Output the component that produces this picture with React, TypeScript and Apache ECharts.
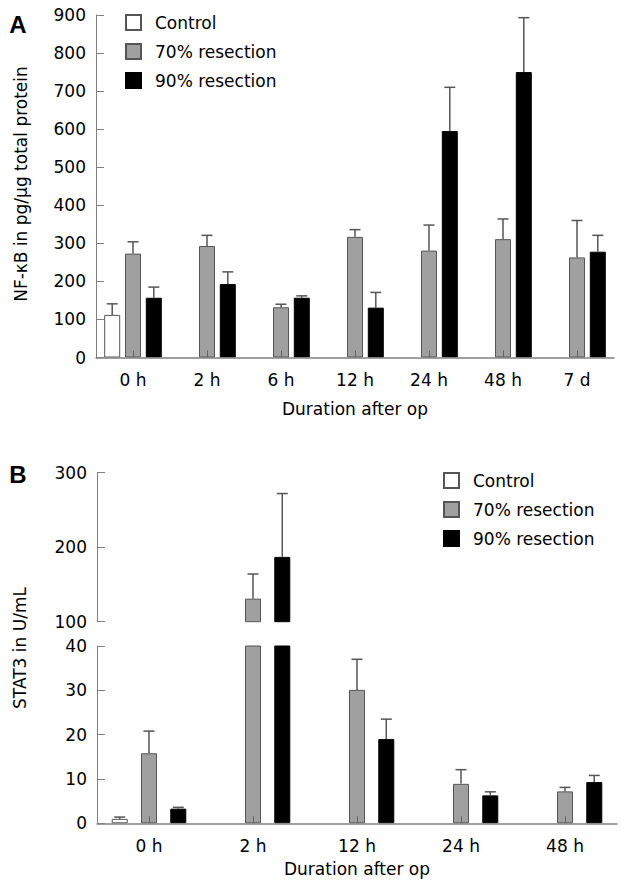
import React, { useEffect, useRef } from "react";
import * as echarts from "echarts";

// Panel A: NF-kB
const categoriesA = ["0 h", "2 h", "6 h", "12 h", "24 h", "48 h", "7 d"];
const controlA = [112, null, null, null, null, null, null];
const controlErrA = [29, null, null, null, null, null, null];
const res70A = [273, 293, 132, 317, 281, 311, 263];
const res70ErrA = [31, 28, 8, 19, 67, 53, 97];
const res90A = [157, 193, 157, 131, 595, 750, 278];
const res90ErrA = [28, 32, 5, 40, 115, 143, 43];
const ticksA = [0, 100, 200, 300, 400, 500, 600, 700, 800, 900];

// Panel B: STAT3 (broken axis)
const categoriesB = ["0 h", "2 h", "12 h", "24 h", "48 h"];
const controlB = [1.0, null, null, null, null];
const controlErrB = [0.4, null, null, null, null];
const res70B = [15.8, 131, 30.1, 8.9, 7.2];
const res70ErrB = [5.0, 33, 6.9, 3.2, 0.9];
const res90B = [3.3, 187, 19.0, 6.3, 9.3];
const res90ErrB = [0.3, 85, 4.5, 0.8, 1.5];
const ticksBTop = [100, 200, 300];
const ticksBBottom = [0, 10, 20, 30, 40];
const BREAK_LOW = 40;

const seriesNames = ["Control", "70% resection", "90% resection"];
const FONT = "DejaVu Sans";
const AXIS_COLOR = "#808080";
const ERR_COLOR = "#555555";

const styles = [
  { color: "#ffffff", borderColor: "#555555", borderWidth: 1 },
  { color: "#a0a0a0", borderColor: "#555555", borderWidth: 1 },
  { color: "#000000", borderColor: "#000000", borderWidth: 1 },
];

function errData(means: (number | null)[], errs: (number | null)[], filter?: (v: number) => boolean) {
  const out: number[][] = [];
  means.forEach((m, i) => {
    const e = errs[i];
    if (m == null || e == null) return;
    if (filter && !filter(m)) return;
    out.push([i, m, m + e]);
  });
  return out;
}

function errRender(offset: number) {
  return (params: any, api: any) => {
    const x = api.value(0);
    const p0 = api.coord([x, api.value(1)]);
    const p1 = api.coord([x, api.value(2)]);
    const cx = p0[0] + offset;
    const st = { stroke: ERR_COLOR, lineWidth: 1.5 };
    return {
      type: "group",
      children: [
        { type: "line", shape: { x1: cx, y1: p0[1], x2: cx, y2: p1[1] }, style: st },
        { type: "line", shape: { x1: cx - 5.5, y1: p1[1], x2: cx + 5.5, y2: p1[1] }, style: st },
      ],
    };
  };
}

export default function App() {
  const ref = useRef<HTMLDivElement>(null);
  useEffect(() => {
    if (!ref.current) return;
    const chart = echarts.init(ref.current, undefined, { renderer: "svg" });

    const labelStyle = { fontFamily: FONT, fontSize: 17, color: "#000" };
    const yAxisCommon = (gridIndex: number, min: number, max: number, interval: number) => ({
      type: "value",
      gridIndex,
      min,
      max,
      interval,
      axisLine: { show: true, lineStyle: { color: AXIS_COLOR, width: 1 } },
      axisTick: { show: true, inside: true, length: 8, lineStyle: { color: AXIS_COLOR } },
      axisLabel: { ...labelStyle, margin: 10 },
      splitLine: { show: false },
    });
    const xAxisCommon = (gridIndex: number, data: string[], margin: number, nameGap: number) => ({
      type: "category",
      gridIndex,
      data,
      z: 5,
      name: "Duration after op",
      nameLocation: "middle",
      nameGap,
      nameTextStyle: { fontFamily: FONT, fontSize: 17, color: "#000" },
      axisLine: { show: true, lineStyle: { color: AXIS_COLOR, width: 1.5 } },
      axisTick: { show: true, inside: true, alignWithLabel: true, length: 7, lineStyle: { color: "#666" } },
      axisLabel: { ...labelStyle, margin },
      splitLine: { show: false },
    });

    const legendCommon = (left: number, top: number) => ({
      data: seriesNames.map((n) => ({ name: n, icon: "rect" })),
      left,
      top,
      orient: "vertical",
      itemWidth: 15,
      itemHeight: 15,
      itemGap: 12,
      padding: 0,
      selectedMode: false,
      textStyle: { fontFamily: FONT, fontSize: 17, color: "#000", padding: [0, 0, 0, 9] },
    });

    const offA = 16 * 1.3;
    const offB = 16 * 1.83;
    const aMeans = [controlA, res70A, res90A];
    const aErrs = [controlErrA, res70ErrA, res90ErrA];
    const bMeans = [controlB, res70B, res90B];
    const bErrs = [controlErrB, res70ErrB, res90ErrB];

    const series: any[] = [];
    aMeans.forEach((d, k) => {
      series.push({
        type: "bar",
        name: seriesNames[k],
        xAxisIndex: 0,
        yAxisIndex: 0,
        data: d,
        barWidth: 16,
        barGap: "30%",
        itemStyle: styles[k],
      });
    });
    [1, 2].forEach((ax) => {
      bMeans.forEach((d, k) => {
        series.push({
          type: "bar",
          name: seriesNames[k],
          xAxisIndex: ax,
          yAxisIndex: ax,
          data: d,
          barWidth: 16,
          barGap: "83%",
          clip: true,
          itemStyle: styles[k],
        });
      });
    });
    aMeans.forEach((d, k) => {
      series.push({
        type: "custom",
        xAxisIndex: 0,
        yAxisIndex: 0,
        z: 4,
        renderItem: errRender((k - 1) * offA),
        encode: { x: 0, y: [1, 2] },
        data: errData(d, aErrs[k]),
      });
    });
    bMeans.forEach((d, k) => {
      series.push({
        type: "custom",
        xAxisIndex: 1,
        yAxisIndex: 1,
        z: 4,
        renderItem: errRender((k - 1) * offB),
        encode: { x: 0, y: [1, 2] },
        data: errData(d, bErrs[k], (v) => v > BREAK_LOW),
      });
      series.push({
        type: "custom",
        xAxisIndex: 2,
        yAxisIndex: 2,
        z: 4,
        renderItem: errRender((k - 1) * offB),
        encode: { x: 0, y: [1, 2] },
        data: errData(d, bErrs[k], (v) => v <= BREAK_LOW),
      });
    });

    chart.setOption({
      animation: false,
      backgroundColor: "#fff",
      grid: [
        { left: 96, top: 15, width: 518, height: 342.5 },
        { left: 97, top: 472.7, width: 520, height: 149 },
        { left: 97, top: 646, width: 520, height: 177.3 },
      ],
      xAxis: [
        xAxisCommon(0, categoriesA, 14, 43),
        { type: "category", gridIndex: 1, data: categoriesB, show: false },
        xAxisCommon(2, categoriesB, 14, 37),
      ],
      yAxis: [
        yAxisCommon(0, ticksA[0], ticksA[ticksA.length - 1], ticksA[1] - ticksA[0]),
        yAxisCommon(1, ticksBTop[0], ticksBTop[ticksBTop.length - 1], ticksBTop[1] - ticksBTop[0]),
        yAxisCommon(2, ticksBBottom[0], ticksBBottom[ticksBBottom.length - 1], ticksBBottom[1] - ticksBBottom[0]),
      ],
      legend: [legendCommon(125, 14), legendCommon(443, 472)],
      graphic: [
        {
          type: "text",
          x: 18,
          y: 24,
          style: { text: "A", fontFamily: "Liberation Sans", fontWeight: "bold", fontSize: 24, fill: "#000", textAlign: "center", textVerticalAlign: "middle" },
        },
        {
          type: "text",
          x: 18,
          y: 474,
          style: { text: "B", fontFamily: "Liberation Sans", fontWeight: "bold", fontSize: 24, fill: "#000", textAlign: "center", textVerticalAlign: "middle" },
        },
        {
          type: "text",
          x: 21,
          y: 184,
          rotation: Math.PI / 2,
          style: { text: "NF-κB in pg/μg total protein", fontFamily: FONT, fontSize: 17, fill: "#000", textAlign: "center", textVerticalAlign: "middle" },
        },
        {
          type: "text",
          x: 20,
          y: 648,
          rotation: Math.PI / 2,
          style: { text: "STAT3 in U/mL", fontFamily: FONT, fontSize: 17, fill: "#000", textAlign: "center", textVerticalAlign: "middle" },
        },
      ],
      series,
    });
    return () => chart.dispose();
  }, []);
  return <div ref={ref} style={{ position: "absolute", left: 0, top: 0, width: 627, height: 893 }} />;
}
